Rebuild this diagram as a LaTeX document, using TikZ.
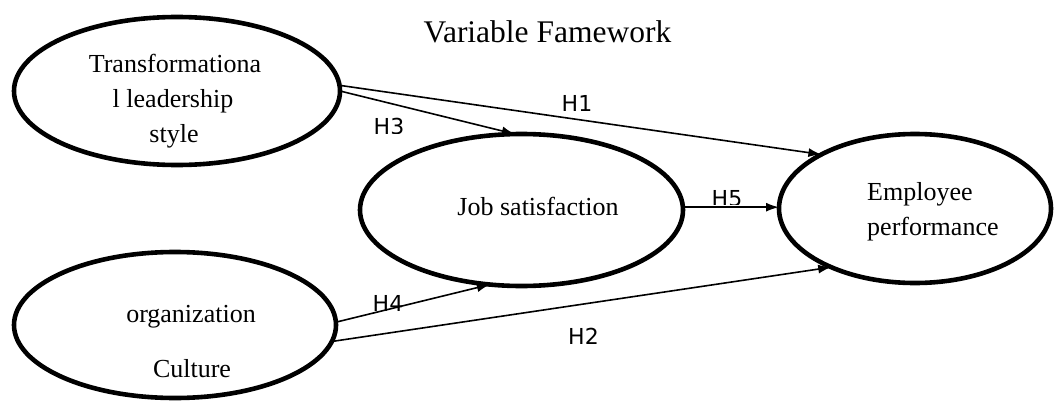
\documentclass[tikz,border=0pt]{standalone}
\usepackage{fontspec}
\setmainfont{Liberation Serif}
\newfontfamily\hfont{DejaVu Sans}
\usetikzlibrary{shapes.geometric,arrows.meta}
\begin{document}
\begin{tikzpicture}[x=1pt,y=1pt,
  ell/.style={draw, ellipse, line width=4.6pt, inner sep=0pt, outer sep=0pt},
  lbl/.style={font=\fontsize{26}{30}\selectfont, inner sep=0pt, anchor=base},
  hyp/.style={font=\hfont\fontsize{22}{26}\selectfont, inner sep=0pt, anchor=base},
  arr/.style={line width=1.6pt, -{Latex[length=13pt,width=9pt]}}]
\useasboundingbox (0,0) rectangle (1054,400);
% title
\node[font=\fontsize{31.5}{36}\selectfont, inner sep=0pt, anchor=base] (title) at (547.5,358) {Variable Famework};
% ellipses
\node[ell, minimum width=326pt, minimum height=148pt] (tl) at (177,309) {};
\node[ell, minimum width=323pt, minimum height=152pt] (job) at (521.5,190) {};
\node[ell, minimum width=272pt, minimum height=149pt] (emp) at (915,191.5) {};
\node[ell, minimum width=322pt, minimum height=146pt] (org) at (175,75) {};
% texts
\node[lbl] (t1) at (175,328) {Transformationa};
\node[lbl] (t2) at (173,293) {l leadership};
\node[lbl] (t3) at (174,258) {style};
\node[lbl] (j1) at (538,185) {Job satisfaction};
\node[lbl, anchor=base west] (e1) at (867,200) {Employee};
\node[lbl, anchor=base west] (e2) at (867,165) {performance};
\node[lbl] (o1) at (191,78) {organization};
\node[lbl] (o2) at (192,23) {Culture};
% hypothesis labels
\node[hyp] (h1) at (577,289) {H1};
\node[hyp] (h4) at (388,89) {H4};
\begin{scope}
  \clip (350,267) rectangle (430,300);
  \node[hyp] (h3) at (389,265.5) {H3};
\end{scope}
\begin{scope}
  \clip (690,195.5) rectangle (770,230);
  \node[hyp] (h5) at (727,193.5) {H5};
\end{scope}
\begin{scope}
  \clip (550,57) rectangle (620,90);
  \node[hyp] (h2) at (583.5,55.5) {H2};
\end{scope}
% connectors
\draw[arr] (tl.2) -- (emp.150);
\draw[arr] (tl.0) -- (job.95);
\draw[arr] (job.1.5) -- (job.1.5 -| emp.west);
\draw[arr] (org.1) -- (job.-113);
\draw[arr] (org.-6) -- (emp.215);
\end{tikzpicture}
\end{document}
